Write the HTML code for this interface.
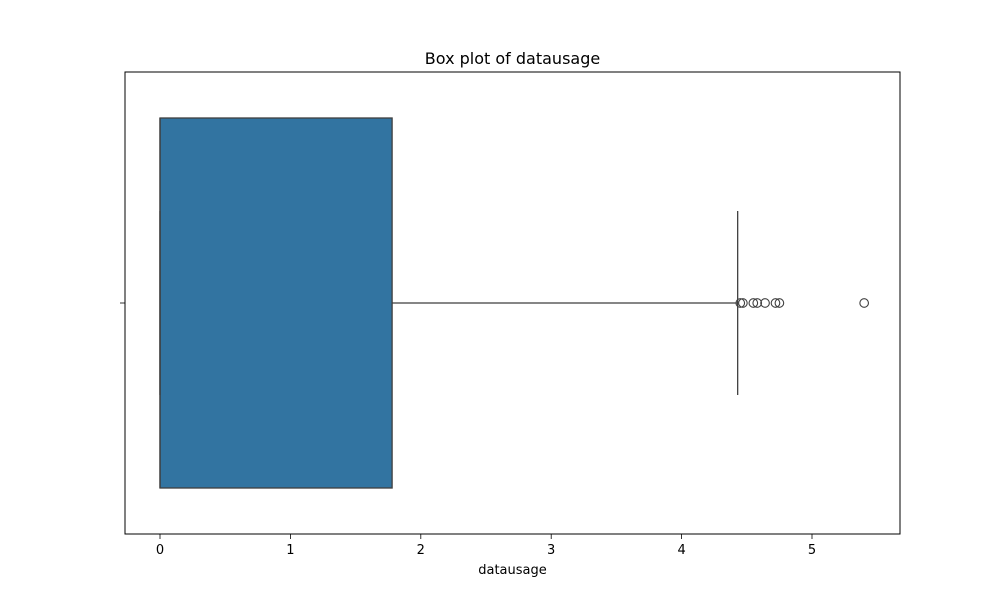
<!DOCTYPE html>
<html><head><meta charset="utf-8"><style>body{margin:0;background:#fff}svg text{font-family:"DejaVu Sans","Liberation Sans",sans-serif;fill:#000}</style></head>
<body>
<svg id="c" width="1000" height="600" xmlns="http://www.w3.org/2000/svg">
<rect width="1000" height="600" fill="#fff"/>
<text x="512.5" y="64" font-size="16" text-anchor="middle">Box plot of datausage</text>
<g id="plot"></g>
<rect x="125" y="72" width="775" height="462" fill="none" stroke="#000" stroke-width="1"/>
<text x="512.5" y="574" font-size="13" text-anchor="middle">datausage</text>
</svg>
<script>
const stats = [0, 0, 1.78, 4.43];   // q1, median, q3, upper whisker
const lowerWhisker = [0];
const outliers = [4.45, 4.47, 4.55, 4.58, 4.64, 4.72, 4.75, 5.40];
const xTicks = [0, 1, 2, 3, 4, 5];
const tickLabels = ["0", "1", "2", "3", "4", "5"];

const NS = "http://www.w3.org/2000/svg";
const g = document.getElementById('plot');
const x = v => 160 + v * 130.4;
const cy = 303;
function mk(t, a) { const e = document.createElementNS(NS, t); for (const k in a) e.setAttribute(k, a[k]); g.appendChild(e); return e; }

let e;
e = mk('rect', {x: x(stats[0]), y: 118, width: x(stats[2]) - x(stats[0]), height: 370, fill: '#3274a1', stroke: '#3f3f3f', 'stroke-width': 1.3});


e = mk('line', {x1: x(stats[1]), x2: x(stats[1]), y1: 118, y2: 488, stroke: '#3f3f3f', 'stroke-width': 1.3});


e = mk('line', {x1: x(stats[2]), x2: x(stats[3]), y1: cy, y2: cy, stroke: '#3f3f3f', 'stroke-width': 1.3});


e = mk('line', {x1: x(stats[3]), x2: x(stats[3]), y1: 211, y2: 395, stroke: '#3f3f3f', 'stroke-width': 1.3});


e = mk('line', {x1: x(lowerWhisker[0]), x2: x(lowerWhisker[0]), y1: 211, y2: 395, stroke: '#3f3f3f', 'stroke-width': 1.3});


outliers.forEach(v => {
  const c = mk('circle', {cx: x(v), cy: cy, r: 4.3, fill: 'none', stroke: '#3f3f3f', 'stroke-width': 1.1});
  
  
});
xTicks.forEach((v, i) => {
  const t = mk('line', {x1: x(v), x2: x(v), y1: 534, y2: 539, stroke: '#000', 'stroke-width': 0.8});
  
  
  const l = mk('text', {x: x(v), y: 554, 'font-size': 13, 'text-anchor': 'middle'});
  l.textContent = tickLabels[i];
  
  
});
e = mk('line', {x1: 120, x2: 125, y1: cy, y2: cy, stroke: '#000', 'stroke-width': 0.8});


</script>
</body></html>
